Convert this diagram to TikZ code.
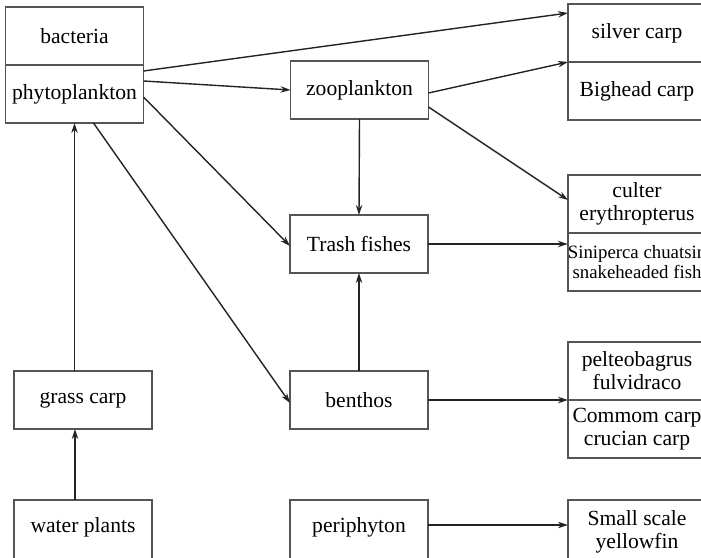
\documentclass[tikz,border=0pt]{standalone}
\usepackage{fontspec}
\setmainfont{Liberation Serif}
\usepackage{xcolor}
\usepackage{tikz}
\definecolor{boxgray}{RGB}{85, 85, 85}
\definecolor{arrowgray}{RGB}{35, 35, 35}
\usetikzlibrary{arrows.meta, positioning, calc}

\begin{document}
\begin{tikzpicture}[
    x=0.5pt, y=-0.5pt,
    box/.style={rectangle, draw=boxgray, line width=0.7pt, outer sep=0pt,
                inner sep=0pt, minimum width=69pt, minimum height=29pt,
                align=center, font=\fontsize{10.8}{11.5}\selectfont},
    smallbox/.style={box, font=\fontsize{9.4}{10}\selectfont},
    lowbox/.style={box, minimum height=32pt},
    arrow/.style={-{Stealth[length=5pt, width=3.2pt]}, line width=0.7pt, arrowgray}
]
    \path[use as bounding box, clip] (0,0) rectangle (701,557);

    % left column
    \node[box] (bacteria) at (74.5,36) {bacteria};
    \node[box, below=0pt of bacteria] (phyto) {phytoplankton};
    \node[box] (grass) at (83,400) {grass carp};
    \node[lowbox] (water) at (83,532) {\raisebox{7pt}{water plants}};

    % middle column
    \node[box] (zoo) at (359.5,90) {zooplankton};
    \node[box] (trash) at (359,244) {Trash fishes};
    \node[box] (benthos) at (359,400) {benthos};
    \node[lowbox] (periph) at (359,532) {\raisebox{7pt}{periphyton}};

    % fishes on the right
    \node[box] (silver) at (637,33) {silver carp};
    \node[box, below=0pt of silver] (bighead) {Bighead carp};
    \node[box] (culter) at (637,204) {culter\\erythropterus};
    \node[smallbox, below=0pt of culter] (sini) {Siniperca chuatsin\\snakeheaded fish};
    \node[box] (pelteo) at (637,371) {pelteobagrus\\fulvidraco};
    \node[box, below=0pt of pelteo] (commom) {Commom carp\\crucian carp};
    \node[lowbox] (small) at (637,532) {\raisebox{7pt}{\begin{tabular}{@{}c@{}}Small scale\\yellowfin\end{tabular}}};

    \draw[arrow] ($(phyto.north east)+(0,6)$) -- ($(silver.north west)+(0,9)$);
    \draw[arrow] ($(phyto.north east)+(0,16)$) -- (zoo.west);
    \draw[arrow] ($(phyto.east)+(0,3)$) -- ($(trash.west)+(0,2)$);
    \draw[arrow] ($(phyto.south)+(19,0)$) -- ($(benthos.west)+(0,3)$);
    \draw[arrow] (grass.north -| phyto.south) -- (phyto.south);
    \draw[arrow] ($(water.north)+(-8,0)$) -- ($(grass.south)+(-8,0)$);
    \draw[arrow] ($(zoo.east)+(0,3)$) -- (silver.south west);
    \draw[arrow] ($(zoo.east)+(0,17)$) -- ($(culter.west)+(0,-4)$);
    \draw[arrow] (zoo.south) -- (trash.north);
    \draw[arrow] (trash.east) -- (trash.east -| sini.west);
    \draw[arrow] (benthos.north) -- (trash.south);
    \draw[arrow] (benthos.east) -- (benthos.east -| commom.west);
    \draw[arrow] ($(periph.east)+(0,-7)$) -- ($(small.west)+(0,-7)$);
\end{tikzpicture}
\end{document}
